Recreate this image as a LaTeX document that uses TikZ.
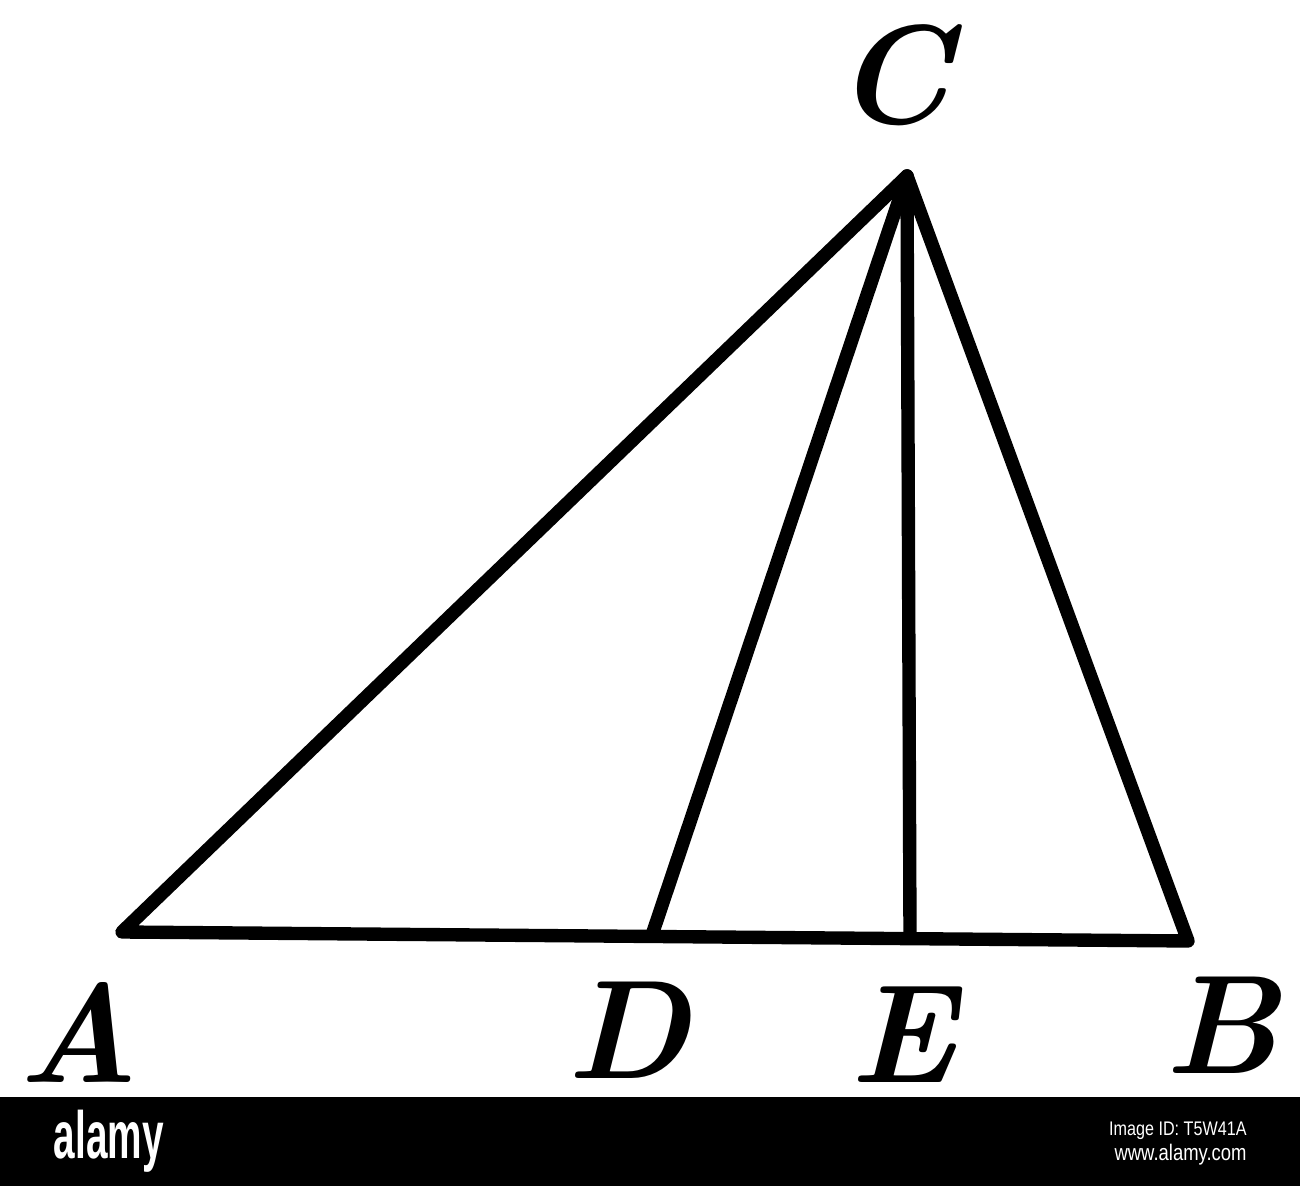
\documentclass[tikz,border=0pt]{standalone}
\usepackage{fontspec}
\setsansfont{Liberation Sans}
\begin{document}
\begin{tikzpicture}[x=0.01cm,y=-0.01cm,line width=3.8pt,line join=round,line cap=round]
\tikzset{letter/.style={font=\fontsize{40}{40}\selectfont\bfseries\itshape,inner sep=0pt},
  banner/.style={text=white,font=\sffamily,inner sep=0pt}}
\useasboundingbox (0,0) rectangle (1300,1186);
%%Points
\coordinate (A) at (122,932);
\coordinate (D) at (652,935);
\coordinate (E) at (910,937);
\coordinate (B) at (1188,941);
\coordinate (C) at (907,176);
%%Triangle
\draw (A) -- (C) -- (B) -- cycle;
\draw (C) -- (D);
\draw (C) -- (E);
%%Label
\node[letter] (lC) at (893,75) {C};
\node[letter] (lA) at (78,1032) {A};
\node[letter] (lD) at (628,1030) {D};
\node[letter] (lE) at (903,1035) {E};
\node[letter] (lB) at (1222,1025) {B};
%%Banner
\fill (0,1097) rectangle (1300,1186);
\node[banner,font=\sffamily\bfseries\fontsize{19}{19}\selectfont,xscale=0.58,anchor=west] (logo) at (50,1141) {alamy};
\node[banner,font=\sffamily\fontsize{5.6}{6}\selectfont,xscale=0.82,anchor=east] (imgid) at (1252,1131) {Image ID: T5W41A};
\node[banner,font=\sffamily\fontsize{6.4}{7}\selectfont,xscale=0.82,anchor=east] (site) at (1252,1155) {www.alamy.com};
\end{tikzpicture}
\end{document}
